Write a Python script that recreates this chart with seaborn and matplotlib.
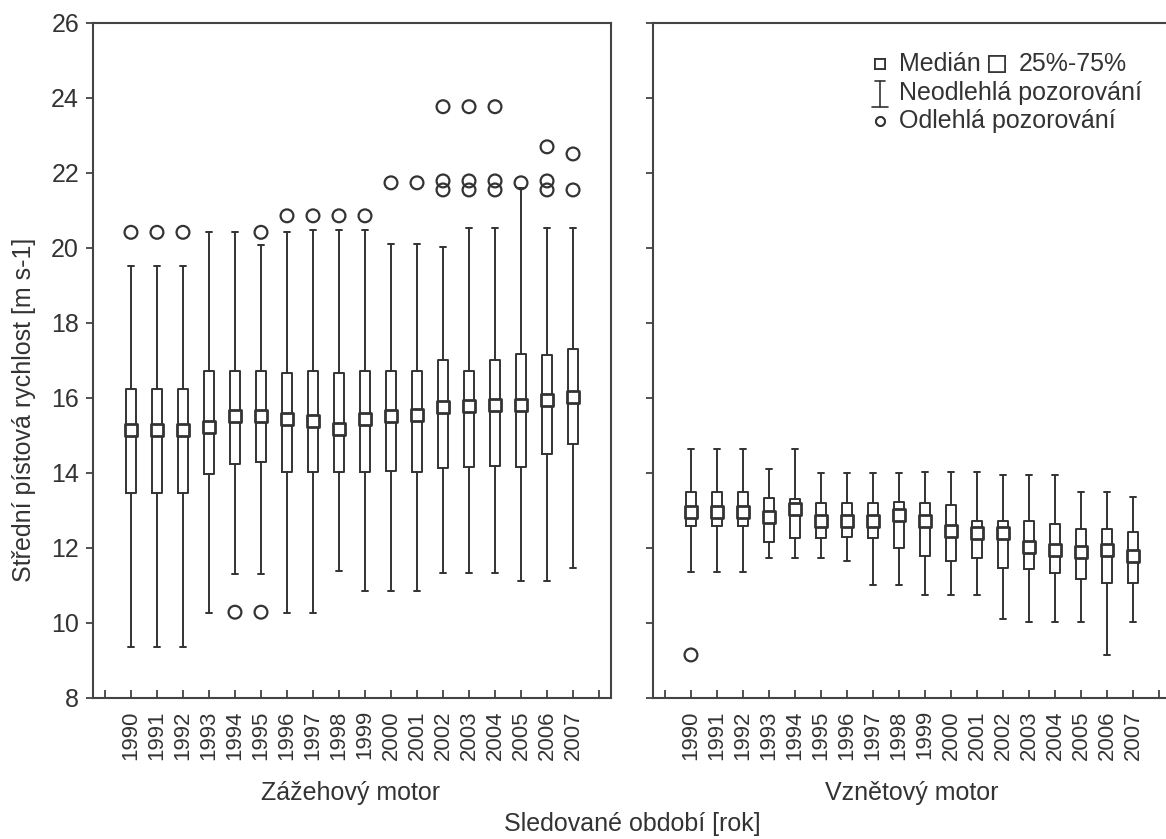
import numpy as np
import pandas as pd
import matplotlib
matplotlib.use("Agg")
import matplotlib.pyplot as plt
import seaborn as sns

# --- data (summary statistics per year) ---
years = list(range(1990, 2008))

# Zážehový motor (petrol)
med_z = [15.13, 15.13, 15.13, 15.21, 15.50, 15.52, 15.42, 15.38, 15.17,
         15.42, 15.50, 15.53, 15.76, 15.78, 15.81, 15.81, 15.93, 16.02]
q1_z = [13.45, 13.45, 13.45, 13.96, 14.23, 14.29, 14.03, 14.03, 14.03,
        14.03, 14.04, 14.03, 14.13, 14.14, 14.18, 14.14, 14.50, 14.77]
q3_z = [16.22, 16.22, 16.22, 16.72, 16.70, 16.72, 16.67, 16.72, 16.66,
        16.72, 16.72, 16.72, 17.01, 16.72, 17.01, 17.17, 17.14, 17.30]
lo_z = [9.36, 9.36, 9.36, 10.27, 11.30, 11.30, 10.27, 10.27, 11.38,
        10.85, 10.85, 10.85, 11.33, 11.33, 11.33, 11.11, 11.11, 11.45]
hi_z = [19.51, 19.51, 19.51, 20.41, 20.41, 20.07, 20.41, 20.47, 20.47,
        20.47, 20.09, 20.09, 20.03, 20.53, 20.53, 21.60, 20.53, 20.53]
out_z = [[20.41], [20.41], [20.41], [], [10.28], [20.41, 10.28],
         [20.85], [20.85], [20.85], [20.85], [21.73], [21.73],
         [21.78, 21.54, 23.76], [21.78, 21.54, 23.76], [21.78, 21.54, 23.76],
         [21.73], [22.69, 21.78, 21.54], [22.50, 21.54]]

# Vznětový motor (diesel)
med_v = [12.95, 12.95, 12.95, 12.83, 13.02, 12.71, 12.72, 12.71, 12.87,
         12.72, 12.45, 12.40, 12.40, 12.03, 11.95, 11.88, 11.95, 11.77]
q1_v = [12.59, 12.59, 12.59, 12.16, 12.27, 12.27, 12.29, 12.27, 12.00,
        11.78, 11.64, 11.72, 11.47, 11.43, 11.33, 11.17, 11.05, 11.05]
q3_v = [13.49, 13.49, 13.49, 13.33, 13.31, 13.18, 13.18, 13.18, 13.21,
        13.18, 13.14, 12.72, 12.72, 12.72, 12.62, 12.51, 12.51, 12.41]
lo_v = [11.34, 11.34, 11.34, 11.73, 11.73, 11.73, 11.64, 11.01, 11.01,
        10.73, 10.73, 10.73, 10.11, 10.03, 10.03, 10.03, 9.14, 10.03]
hi_v = [14.63, 14.63, 14.63, 14.10, 14.63, 14.00, 14.00, 14.00, 14.00,
        14.03, 14.03, 14.03, 13.94, 13.94, 13.94, 13.48, 13.48, 13.36]
out_v = [[9.14]] + [[] for _ in range(17)]

group_labels = ["Zážehový motor", "Vznětový motor"]
ylabel = "Střední pístová rychlost [m s-1]"
xlabel = "Sledované období [rok]"

INK = "#333333"
W, H = 1166, 839

sns.set_style("ticks")
plt.rcParams["font.family"] = ["Liberation Sans", "DejaVu Sans"]
plt.rcParams["text.color"] = INK
plt.rcParams["axes.labelcolor"] = INK
plt.rcParams["xtick.color"] = INK
plt.rcParams["ytick.color"] = INK


def px(x, y):
    # pixel position in the picture -> figure fraction
    return x / W, 1 - y / H


def fig_line(fig, x0, y0, x1, y1, **kw):
    (fx0, fy0), (fx1, fy1) = px(x0, y0), px(x1, y1)
    fig.add_artist(plt.Line2D([fx0, fx1], [fy0, fy1], transform=fig.transFigure, **kw))


def draw_panel(ax, med, q1, q3, lo, hi, outs):
    stats = [dict(med=m, q1=a, q3=b, whislo=l, whishi=h, fliers=[])
             for m, a, b, l, h in zip(med, q1, q3, lo, hi)]
    pos = np.arange(len(years))
    ax.bxp(stats, positions=pos, widths=0.42, capwidths=0.24,
           showfliers=False, manage_ticks=False,
           boxprops=dict(color=INK, lw=1.4),
           whiskerprops=dict(color=INK, lw=1.4),
           capprops=dict(color=INK, lw=1.4),
           medianprops=dict(lw=0))

    med_df = pd.DataFrame({"pos": pos, "val": med})
    sns.scatterplot(data=med_df, x="pos", y="val", ax=ax, marker="s", s=72,
                    facecolor="white", edgecolor=INK, linewidth=2.0, zorder=4)

    rows = [(i, v) for i, vals in enumerate(outs) for v in vals]
    if rows:
        out_df = pd.DataFrame(rows, columns=["pos", "val"])
        sns.scatterplot(data=out_df, x="pos", y="val", ax=ax, marker="o", s=85,
                        facecolor="none", edgecolor=INK, linewidth=1.6, zorder=4)

    ax.set_xlim(-1.46, 18.46)
    ax.set_ylim(8, 26)
    ax.set_xticks(range(-1, 19))
    ax.set_xticklabels([""] + [str(y) for y in years] + [""], rotation=90, fontsize=16)
    ax.set_yticks(range(8, 27, 2))
    ax.tick_params(axis="x", direction="in", length=6, width=1.2, pad=9)
    ax.tick_params(axis="y", direction="out", length=5, width=1.2, labelsize=18, pad=5)
    ax.set_xlabel("")
    ax.set_ylabel("")
    for sp in ax.spines.values():
        sp.set_visible(True)
        sp.set_color("#444444")
        sp.set_linewidth(1.5)


fig = plt.figure(figsize=(W / 100, H / 100), dpi=100)
ax1 = fig.add_axes([93 / W, 1 - 697.7 / H, 518 / W, 675 / H])
ax2 = fig.add_axes([653 / W, 1 - 697.7 / H, 518 / W, 675 / H])

draw_panel(ax1, med_z, q1_z, q3_z, lo_z, hi_z, out_z)
draw_panel(ax2, med_v, q1_v, q3_v, lo_v, hi_v, out_v)
ax2.set_yticklabels([])

fig.text(*px(24, 410), ylabel, ha="center", va="center", rotation=90, fontsize=18)
fig.text(*px(351, 793), group_labels[0], ha="center", va="center", fontsize=18)
fig.text(*px(912, 793), group_labels[1], ha="center", va="center", fontsize=18)
fig.text(*px(632, 824), xlabel, ha="center", va="center", fontsize=18)

# legend drawn by hand (two entries share the first row)
lx = 880
fig_line(fig, lx, 64, lx, 64, marker="s", ms=7, mfc="white", mec=INK, mew=1.3, ls="")
fig.text(*px(899, 64), "Medián", va="center", fontsize=18)
fig_line(fig, 997, 64, 997, 64, marker="s", ms=11.5, mfc="white", mec=INK, mew=1.2, ls="")
fig.text(*px(1019, 64), "25%-75%", va="center", fontsize=18)
# whisker symbol
fig_line(fig, lx, 81, lx, 107, color=INK, lw=1.2)
fig_line(fig, lx - 5, 81, lx + 5, 81, color=INK, lw=1.2)
fig_line(fig, lx - 8, 107, lx + 8, 107, color=INK, lw=1.2)
fig.text(*px(899, 93), "Neodlehlá pozorování", va="center", fontsize=18)
fig_line(fig, lx, 121, lx, 121, marker="o", ms=6.5, mfc="none", mec=INK, mew=1.3, ls="")
fig.text(*px(899, 121), "Odlehlá pozorování", va="center", fontsize=18)

fig.savefig("out.png", dpi=100)
